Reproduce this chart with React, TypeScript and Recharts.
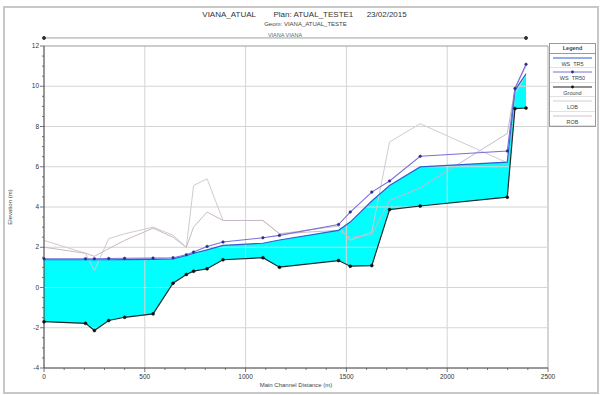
import { ComposedChart, Area, Line, XAxis, YAxis, ReferenceLine, ReferenceDot } from 'recharts';

// cross-section stations (main channel distance, m)
const stations = [0, 206, 250, 321, 400, 541, 640, 706, 742, 809, 888, 1086, 1168, 1461, 1519, 1626, 1714, 1866, 2298, 2336, 2391];
const ground = [-1.7, -1.78, -2.14, -1.64, -1.48, -1.31, 0.21, 0.65, 0.81, 0.93, 1.38, 1.48, 1.01, 1.34, 1.06, 1.09, 3.87, 4.05, 4.49, 8.89, 8.92];
const wsTR5 = [1.38, 1.38, 1.38, 1.38, 1.39, 1.4, 1.42, 1.59, 1.7, 1.87, 2.09, 2.2, 2.36, 2.84, 3.25, 4.3, 5.07, 5.99, 6.23, 9.8, 10.62];
const wsTR50 = [1.43, 1.43, 1.43, 1.44, 1.45, 1.46, 1.48, 1.63, 1.76, 2.04, 2.26, 2.47, 2.59, 3.13, 3.75, 4.74, 5.29, 6.52, 6.78, 9.89, 11.09];
const lob = [2.34, 1.7, 0.85, 2.43, 2.67, 3.0, 2.6, 2.0, 5.07, 5.4, 3.33, 3.33, 2.67, 3.05, 2.35, 2.75, 7.23, 8.14, 6.2, 9.6, 10.6];
const rob = [2.0, 1.7, 1.55, 1.93, 2.34, 2.95, 2.5, 2.0, 3.0, 3.75, 3.33, 3.33, 2.67, 2.84, 2.48, 2.62, 4.33, 4.95, 7.65, 9.9, 11.0];

const xTicks = [0, 100, 200, 300, 400, 500, 600, 700, 800, 900, 1000, 1100, 1200, 1300, 1400, 1500, 1600, 1700, 1800, 1900, 2000, 2100, 2200, 2300, 2400, 2500];
const xMajor = [0, 500, 1000, 1500, 2000, 2500];
const yTicks = [-4, -3.5, -3, -2.5, -2, -1.5, -1, -0.5, 0, 0.5, 1, 1.5, 2, 2.5, 3, 3.5, 4, 4.5, 5, 5.5, 6, 6.5, 7, 7.5, 8, 8.5, 9, 9.5, 10, 10.5, 11, 11.5, 12];
const yMajor = [-4, -2, 0, 2, 4, 6, 8, 10, 12];

const reachName = 'VIANA VIANA';
const reachY = 12.4;

const data = stations.map((x, i) => ({
  x,
  ground: ground[i],
  ws5: wsTR5[i],
  ws50: wsTR50[i],
  lob: lob[i],
  rob: rob[i],
  band: [ground[i], wsTR5[i]],
}));

const FONT = '"Liberation Sans", Arial, sans-serif';

const XTick = (props: any) => {
  const { x, y, payload } = props;
  const major = xMajor.includes(payload.value);
  return (
    <g>
      <line x1={x} x2={x} y1={y} y2={y + (major ? 4 : 2)} stroke="#555" strokeWidth={0.8} />
      {major && (
        <text x={x} y={y + 11} textAnchor="middle" fontSize={6.5} fill="#333" fontFamily={FONT}>
          {payload.value}
        </text>
      )}
    </g>
  );
};

const YTick = (props: any) => {
  const { x, y, payload } = props;
  const major = yMajor.includes(payload.value);
  return (
    <g>
      <line x1={x} x2={x - (major ? 4 : 2)} y1={y} y2={y} stroke="#555" strokeWidth={0.8} />
      {major && (
        <text x={x - 5} y={y + 2.2} textAnchor="end" fontSize={6.5} fill="#333" fontFamily={FONT}>
          {payload.value}
        </text>
      )}
    </g>
  );
};

const legendItems = [
  { name: 'WS  TR5', color: '#2d5fd0', dot: false },
  { name: 'WS  TR50', color: '#7a70d8', dot: true, dotColor: '#2a2a90' },
  { name: 'Ground', color: '#222', dot: true, dotColor: '#111' },
  { name: 'LOB', color: '#d0d0d0', dot: false },
  { name: 'ROB', color: '#d0c0cc', dot: false },
];

export default function App() {
  return (
    <div style={{ position: 'absolute', left: 0, top: 0, width: 601, height: 395, background: '#fff', fontFamily: FONT }}>
      <div style={{ position: 'absolute', left: 3, top: 6, width: 592, height: 384, border: '2px solid #c8c8c8' }} />
      <div style={{ position: 'absolute', left: 0, top: 10, width: 601, textAlign: 'center', fontSize: 8, color: '#333', whiteSpace: 'pre' }}>
        <span style={{ position: 'relative', left: 4 }}>{'VIANA_ATUAL        Plan: ATUAL_TESTE1      23/02/2015'}</span>
      </div>
      <div style={{ position: 'absolute', left: 0, top: 21, width: 601, textAlign: 'center', fontSize: 6, color: '#444' }}>
        <span style={{ position: 'relative', left: 5 }}>Geom: VIANA_ATUAL_TESTE</span>
      </div>
      <ComposedChart
        width={601}
        height={395}
        data={data}
        margin={{ top: 46, right: 53, bottom: 7, left: 4 }}
        style={{ position: 'absolute', left: 0, top: 0 }}
      >
        <XAxis
          type="number"
          dataKey="x"
          domain={[0, 2500]}
          ticks={xTicks}
          interval={0}
          height={20}
          tickSize={0}
          tickMargin={0}
          tick={<XTick />}
          axisLine={{ stroke: '#333', strokeWidth: 1 }}
        />
        <YAxis
          type="number"
          domain={[-4, 12]}
          ticks={yTicks}
          interval={0}
          width={40}
          tickSize={0}
          tickMargin={0}
          tick={<YTick />}
          axisLine={{ stroke: '#333', strokeWidth: 1 }}
        />
        {xMajor.slice(1).map((v) => (
          <ReferenceLine key={'gx' + v} x={v} stroke={v === 2500 ? '#aaa' : '#d4d4d4'} strokeWidth={1} />
        ))}
        {yMajor.slice(1).map((v) => (
          <ReferenceLine key={'gy' + v} y={v} stroke={v === 12 ? '#999' : '#d4d4d4'} strokeWidth={1} />
        ))}
        <ReferenceLine
          segment={[{ x: 0, y: reachY }, { x: stations[stations.length - 1], y: reachY }]}
          ifOverflow="visible"
          stroke="#888"
          strokeWidth={0.8}
          label={{ value: reachName, position: 'top', offset: 1, fontSize: 5.5, fill: '#666', fontFamily: FONT }}
        />
        <ReferenceDot x={0} y={reachY} r={1.5} fill="#333" stroke="#333" ifOverflow="visible" />
        <ReferenceDot x={stations[stations.length - 1]} y={reachY} r={1.5} fill="#333" stroke="#333" ifOverflow="visible" />
        <Area
          type="linear"
          dataKey="band"
          fill="#00ffff"
          fillOpacity={1}
          stroke="none"
          isAnimationActive={false}
        />
        <Line type="linear" dataKey="lob" stroke="#cdcdcd" strokeWidth={1} dot={false} isAnimationActive={false} />
        <Line type="linear" dataKey="rob" stroke="#cbb8c6" strokeWidth={1} dot={false} isAnimationActive={false} />
        <Line type="linear" dataKey="ws5" stroke="#2d5fd0" strokeWidth={1.2} dot={false} isAnimationActive={false} />
        <Line
          type="linear"
          dataKey="ws50"
          stroke="#7a70d8"
          strokeWidth={1.1}
          dot={{ r: 1.3, fill: '#2a2a90', stroke: '#2a2a90', strokeWidth: 0.5 }}
          isAnimationActive={false}
        />
        <Line
          type="linear"
          dataKey="ground"
          stroke="#1f2a2a"
          strokeWidth={1.2}
          dot={{ r: 1.5, fill: '#111', stroke: '#111', strokeWidth: 0.5 }}
          isAnimationActive={false}
        />
      </ComposedChart>
      <div
        style={{
          position: 'absolute',
          left: 10,
          top: 207,
          transform: 'translate(-50%, -50%) rotate(-90deg)',
          fontSize: 6,
          color: '#444',
          whiteSpace: 'nowrap',
        }}
      >
        Elevation (m)
      </div>
      <div style={{ position: 'absolute', left: 44, top: 382, width: 504, textAlign: 'center', fontSize: 6, color: '#444' }}>
        Main Channel Distance (m)
      </div>
      <div
        style={{
          position: 'absolute',
          left: 549,
          top: 43,
          width: 47,
          height: 84,
          boxSizing: 'border-box',
          border: '1px solid #999',
          background: '#fff',
          fontSize: 5.5,
          color: '#444',
          textAlign: 'center',
          overflow: 'hidden',
        }}
      >
        <div style={{ height: 10, boxSizing: 'border-box', lineHeight: '9px', borderBottom: '1px solid #999', fontWeight: 'bold' }}>Legend</div>
        {legendItems.map((it) => (
          <div key={it.name} style={{ height: 14.4, boxSizing: 'border-box', borderBottom: '1px solid #e2e2e2' }}>
            <svg width={45} height={7} style={{ display: 'block' }}>
              <line x1={3} x2={42} y1={4} y2={4} stroke={it.color} strokeWidth={1} />
              {it.dot && <circle cx={22.5} cy={4} r={1.4} fill={it.dotColor} />}
            </svg>
            <div style={{ lineHeight: '6px', whiteSpace: 'pre' }}>{it.name}</div>
          </div>
        ))}
      </div>
    </div>
  );
}
